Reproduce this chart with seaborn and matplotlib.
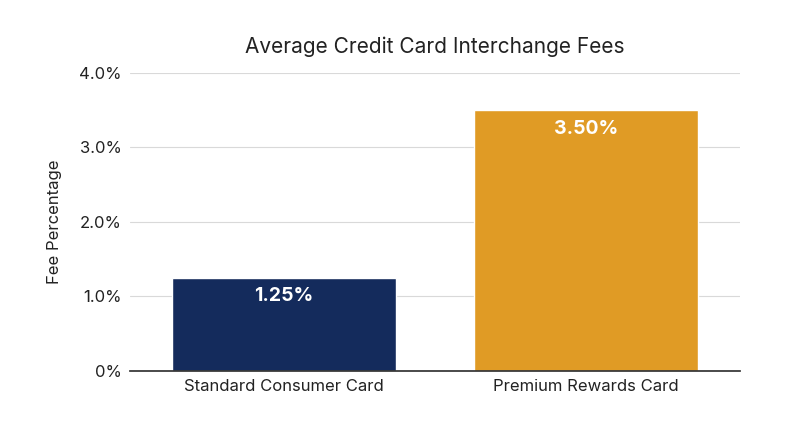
import matplotlib
matplotlib.use("Agg")
import matplotlib.pyplot as plt
import seaborn as sns
import pandas as pd
from matplotlib.ticker import FuncFormatter

categories = ["Standard Consumer Card", "Premium Rewards Card"]
fees = [1.25, 3.50]
colors = ["#142b5c", "#e09b25"]

sns.set_theme(style="whitegrid")
plt.rcParams['font.family'] = ['Inter', 'DejaVu Sans']

df = pd.DataFrame({"card": categories, "fee": fees})
fig = plt.figure(figsize=(8, 4.47), dpi=100)
ax = fig.add_axes([0.1625, 0.17, 0.7625, 0.667])
sns.barplot(data=df, x="card", y="fee", hue="card", palette=colors, width=0.74,
            legend=False, ax=ax, saturation=1)
ax.set_ylim(0, 4)
ax.set_yticks([0, 1, 2, 3, 4])
ax.yaxis.set_major_formatter(FuncFormatter(lambda v, p: "0%" if v == 0 else f"{v:.1f}%"))
ax.set_xlim(-0.51, 1.51)
ax.grid(axis="x", visible=False)
ax.grid(axis="y", color="#d9d9d9", linewidth=0.8)
for s in ["top", "right", "left"]:
    ax.spines[s].set_visible(False)
ax.spines["bottom"].set_color("#333333")
ax.tick_params(axis="both", labelsize=12, colors="#222222", length=0, pad=6)
ax.set_xlabel("")
ax.set_ylabel("Fee Percentage", fontsize=12, color="#222222", labelpad=12)
ax.set_title("Average Credit Card Interchange Fees", fontsize=15, color="#222222", pad=14)
for i, v in enumerate(fees):
    ax.text(i, v - 0.25, f"{v:.2f}%", ha="center", va="center", color="white",
            fontsize=14, fontweight="bold")
fig.savefig("out.png", dpi=100)
